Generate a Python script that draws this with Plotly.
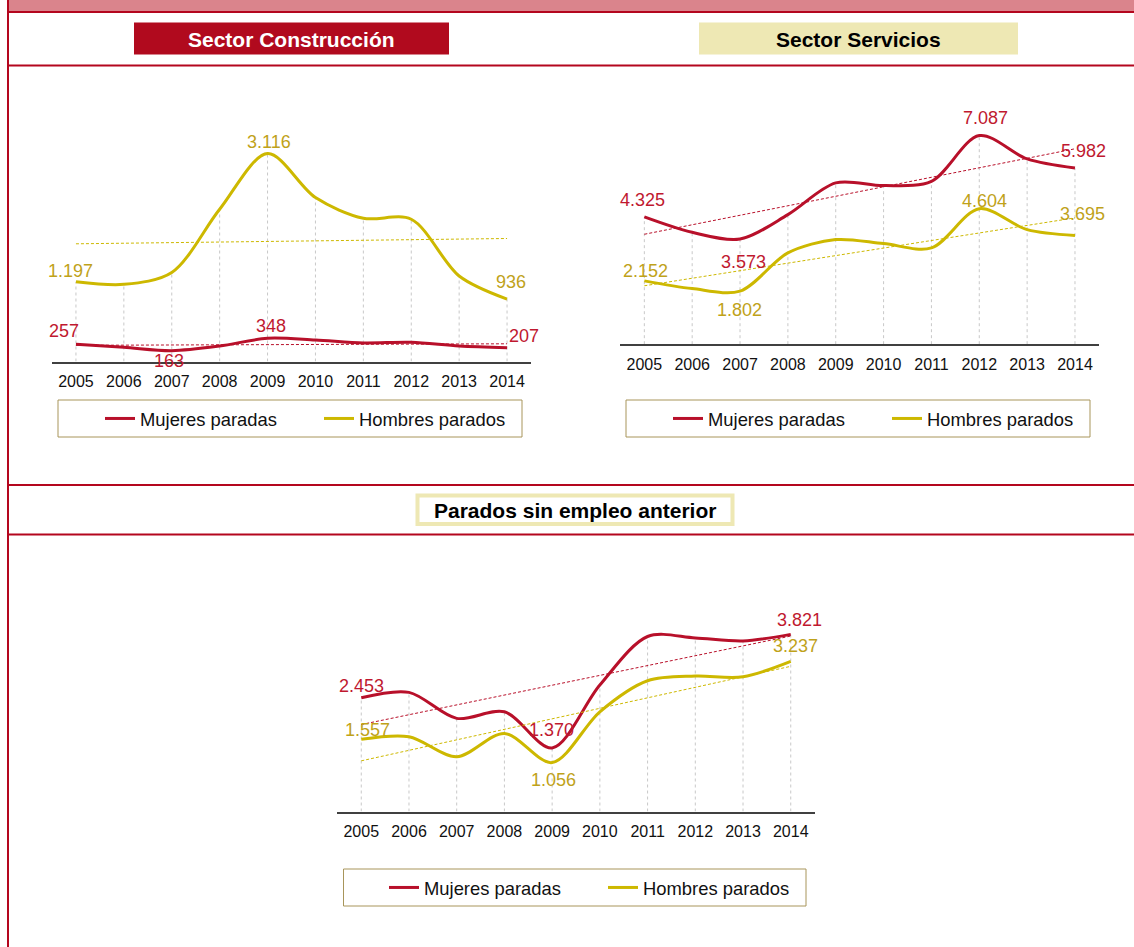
import numpy as np
import plotly.graph_objects as go

# ---------------- data ----------------
years = [2005, 2006, 2007, 2008, 2009, 2010, 2011, 2012, 2013, 2014]

constr_mujeres = [257, 213, 163, 232, 348, 322, 278, 288, 232, 207]
constr_hombres = [1197, 1157, 1333, 2282, 3116, 2457, 2147, 2132, 1282, 936]

serv_mujeres = [4325, 3801, 3573, 4402, 5479, 5387, 5533, 7087, 6294, 5982]
serv_hombres = [2152, 1889, 1802, 3101, 3553, 3417, 3271, 4604, 3893, 3695]

sinemp_mujeres = [2453, 2570, 2009, 2151, 1370, 2727, 3775, 3745, 3680, 3821]
sinemp_hombres = [1557, 1612, 1180, 1685, 1056, 2151, 2820, 2921, 2906, 3237]

series_names = ["Mujeres paradas", "Hombres parados"]
titles = ["Sector Construcción", "Sector Servicios", "Parados sin empleo anterior"]

# ---------------- styles ----------------
W, H = 1134, 947
RED = "#B8102A"
RED_TXT = "#C0182F"
YEL = "#CDB800"
YEL_TXT = "#BFA21A"
BORDER_RED = "#B4061E"
LEG_BORDER = "#A8955A"
FONT = "Arial, 'Liberation Sans', sans-serif"

# panel geometry in pixels
panels = [
    dict(xd=(52.0, 531.0), y0=361.5, ytop=128.0, ymax=3500,
         m=constr_mujeres, h=constr_hombres, legend="legend",
         leg_box=(58, 400, 522, 437), leg_x=100),
    dict(xd=(620.4, 1098.9), y0=344.2, ytop=108.7, ymax=8000,
         m=serv_mujeres, h=serv_hombres, legend="legend2",
         leg_box=(626, 400, 1090, 437), leg_x=668),
    dict(xd=(337.4, 814.6), y0=811.5, ytop=602.9, ymax=4500,
         m=sinemp_mujeres, h=sinemp_hombres, legend="legend3",
         leg_box=(343.5, 869, 806, 906), leg_x=384),
]

# labelled points: (panel, series 'm'/'h', index, xshift, yshift)
label_spec = [
    (0, "h", 0, -5, 11), (0, "h", 4, 1, 12), (0, "h", 9, 4, 17),
    (0, "m", 0, -12, 13), (0, "m", 2, -3, -10), (0, "m", 4, 3, 12), (0, "m", 9, 17, 12),
    (1, "m", 0, -2, 17), (1, "m", 2, 3, -23), (1, "m", 7, 6, 18), (1, "m", 9, 9, 17),
    (1, "h", 0, 1, 10), (1, "h", 2, -1, -19), (1, "h", 7, 5, 8), (1, "h", 9, 8, 21),
    (2, "m", 0, 0, 12), (2, "m", 4, -1, 18), (2, "m", 9, 9, 14),
    (2, "h", 0, 6, 9), (2, "h", 4, 1, -17), (2, "h", 9, 5, 15),
]


def fmt(v):
    return f"{v:,}".replace(",", ".")


def px2x(px):
    return px / W


def px2y(py):
    return 1 - py / H


fig = go.Figure()
annotations = []
shapes = []


def rect(x0, y0, x1, y1, fill, line_color=None, lw=0, layer="below"):
    shapes.append(dict(type="rect", xref="paper", yref="paper",
                       x0=px2x(x0), x1=px2x(x1), y0=px2y(y1), y1=px2y(y0),
                       fillcolor=fill, line=dict(color=line_color or fill, width=lw),
                       layer=layer))


for i, p in enumerate(panels):
    sfx = "" if i == 0 else str(i + 1)
    xa, ya = "x" + sfx, "y" + sfx
    # drop lines from axis to the highest point
    dx, dy = [], []
    for k, yr in enumerate(years):
        dx += [yr, yr, None]
        dy += [0, max(p["m"][k], p["h"][k]), None]
    fig.add_trace(go.Scatter(x=dx, y=dy, mode="lines", xaxis=xa, yaxis=ya,
                             line=dict(color="#C8C8C8", width=1, dash="dot"),
                             showlegend=False, hoverinfo="skip"))
    # main series
    for key, col, name in (("m", RED, series_names[0]), ("h", YEL, series_names[1])):
        fig.add_trace(go.Scatter(x=years, y=p[key], mode="lines", name=name,
                                 xaxis=xa, yaxis=ya, legend=p["legend"],
                                 line=dict(color=col, width=3, shape="spline", smoothing=0.9),
                                 cliponaxis=False))
    # trend lines
    xi = np.arange(len(years))
    for key, col in (("m", RED), ("h", YEL)):
        slope, icpt = np.polyfit(xi, np.array(p[key], dtype=float), 1)
        fig.add_trace(go.Scatter(x=[years[0], years[-1]],
                                 y=[icpt, icpt + slope * xi[-1]],
                                 mode="lines", xaxis=xa, yaxis=ya,
                                 line=dict(color=col, width=1, dash="3px,2px"),
                                 showlegend=False, hoverinfo="skip"))
    # legend frame
    bx0, by0, bx1, by1 = p["leg_box"]
    rect(bx0, by0, bx1, by1, "rgba(0,0,0,0)", LEG_BORDER, 1)
    fig.update_layout(**{
        "xaxis" + sfx: dict(domain=[px2x(p["xd"][0]), px2x(p["xd"][1])],
                            range=[2004.5, 2014.5], anchor=ya,
                            tickvals=years, ticktext=[str(y) for y in years],
                            showline=True, linecolor="#404040", linewidth=1.5,
                            showgrid=False, zeroline=False, ticks="",
                            ticklabelstandoff=5,
                            tickfont=dict(family=FONT, size=16, color="#111111"),
                            fixedrange=True),
        "yaxis" + sfx: dict(domain=[px2y(p["y0"]), px2y(p["ytop"])],
                            range=[0, p["ymax"]], anchor=xa, visible=False,
                            showgrid=False, zeroline=False, fixedrange=True),
        p["legend"]: dict(x=px2x(p["leg_x"]), y=px2y(by0),
                          xanchor="left", yanchor="top", orientation="h",
                          borderwidth=0, bgcolor="rgba(255,255,255,0)",
                          entrywidth=174, entrywidthmode="pixels",
                          font=dict(family=FONT, size=18.4, color="#111111"),
                          traceorder="normal"),
    })

for (pi, key, idx, xs, ys) in label_spec:
    p = panels[pi]
    sfx = "" if pi == 0 else str(pi + 1)
    annotations.append(dict(
        x=years[idx], y=p[key][idx], xref="x" + sfx, yref="y" + sfx,
        text=fmt(p[key][idx]), showarrow=False, xshift=xs, yshift=ys,
        font=dict(family=FONT, size=18, color=RED_TXT if key == "m" else YEL_TXT)))


# ---------------- frame: bars, borders and header boxes ----------------
def hline(py, x0=8, x1=W, lw=2):
    shapes.append(dict(type="line", xref="paper", yref="paper",
                       x0=px2x(x0), x1=px2x(x1), y0=px2y(py), y1=px2y(py),
                       line=dict(color=BORDER_RED, width=lw), layer="below"))


rect(9, 0, W, 11.5, "#DA848C")
hline(12)
hline(65.5)
hline(485)
hline(534.5)
shapes.append(dict(type="line", xref="paper", yref="paper",
                   x0=px2x(8), x1=px2x(8), y0=0, y1=1,
                   line=dict(color=BORDER_RED, width=2), layer="below"))

rect(134, 22.5, 449, 54.5, "#B10A1E")
rect(699, 22.5, 1018, 54.5, "#EEE8B4")
rect(417.5, 495.5, 732.5, 524, "#FFFFFF", "#EEE8B4", 4)

header_pos = [((134 + 449) / 2, 39), ((699 + 1018) / 2, 39), ((416 + 734) / 2, 510)]
header_col = ["#FFFFFF", "#000000", "#000000"]
for t, (cx, cy), c in zip(titles, header_pos, header_col):
    annotations.append(dict(x=px2x(cx), y=px2y(cy), xref="paper", yref="paper",
                            text=f"<b>{t}</b>", showarrow=False,
                            xanchor="center", yanchor="middle",
                            font=dict(family=FONT, size=21, color=c)))

fig.update_layout(width=W, height=H, margin=dict(l=0, r=0, t=0, b=0),
                  paper_bgcolor="#FFFFFF", plot_bgcolor="rgba(0,0,0,0)",
                  shapes=shapes, annotations=annotations,
                  hovermode=False)

fig.write_html("out.html",
               config={"displayModeBar": False},
               post_script="document.body.style.margin='0px';"
                           "document.body.style.overflow='hidden';")
